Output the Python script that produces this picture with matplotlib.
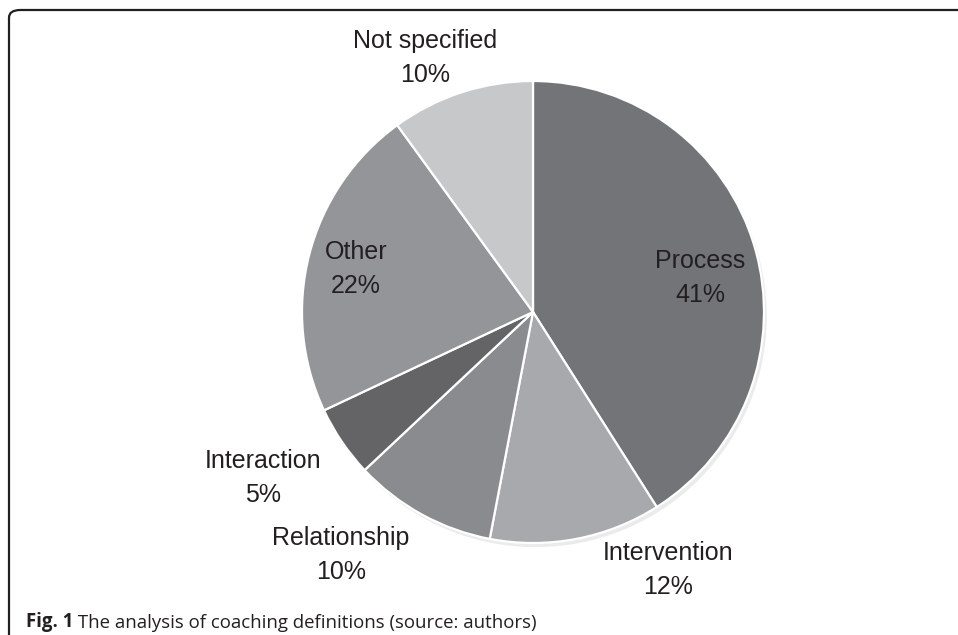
import matplotlib
matplotlib.use("Agg")
import matplotlib.pyplot as plt
from matplotlib.patches import FancyBboxPatch, Circle

# data, clockwise from 12 o'clock
categories = ["Process", "Intervention", "Relationship", "Interaction", "Other", "Not specified"]
shares = [41, 12, 10, 5, 22, 10]
colors = ["#737477", "#a8a9ac", "#8a8b8e", "#646466", "#949598", "#c7c8ca"]

# label block centres (pie radius = 1)
label_xy = [(0.723, 0.147), (0.584, -1.117), (-0.831, -1.052),
            (-1.169, -0.719), (-0.766, 0.186), (-0.468, 1.100)]

W, H, DPI = 958, 635, 100
cx, cy, R = 533, 312, 231  # pie centre / radius in pixels

fig = plt.figure(figsize=(W / DPI, H / DPI), dpi=DPI)
ax = fig.add_axes([0, 0, 1, 1])

# faint shadow under the pie
ax.add_patch(Circle((0.012, -0.018), 1.0, color="#000000", alpha=0.08, lw=0, zorder=0))

wedges, _ = ax.pie(shares, colors=colors, startangle=90, counterclock=False,
                   wedgeprops=dict(edgecolor="white", linewidth=1.6))

for name, val, (x, y) in zip(categories, shares, label_xy):
    ax.text(x, y, f"{name}\n{val}%", ha="center", va="center", fontsize=18,
            family="Liberation Sans", color="#231f20", linespacing=1.52)

ax.set_xlim(-cx / R, (W - cx) / R)
ax.set_ylim((cy - H) / R, cy / R)
ax.set_aspect("auto")
ax.axis("off")

# rounded frame (only top and left edges fall inside the image)
frame = FancyBboxPatch((9 / W, -0.2), 1.2, (H - 10) / H + 0.2,
                       boxstyle="round,pad=0,rounding_size=0.012",
                       transform=fig.transFigure, fill=False,
                       edgecolor="#231f20", linewidth=1.6)
fig.patches.append(frame)

# caption: bold "Fig. 1" followed by regular text
cap = fig.text(26 / W, (H - 627) / H, "Fig. 1", fontsize=13.4, fontweight="bold",
               family="Open Sans", color="#231f20", va="baseline")
ax.annotate(" The analysis of coaching definitions (source: authors)",
            xy=(1, 0), xycoords=cap, xytext=(0, 0), textcoords="offset points",
            fontsize=13.4, family="Open Sans", color="#231f20", ha="left", va="bottom",
            annotation_clip=False)

fig.savefig("out.png", dpi=DPI)
